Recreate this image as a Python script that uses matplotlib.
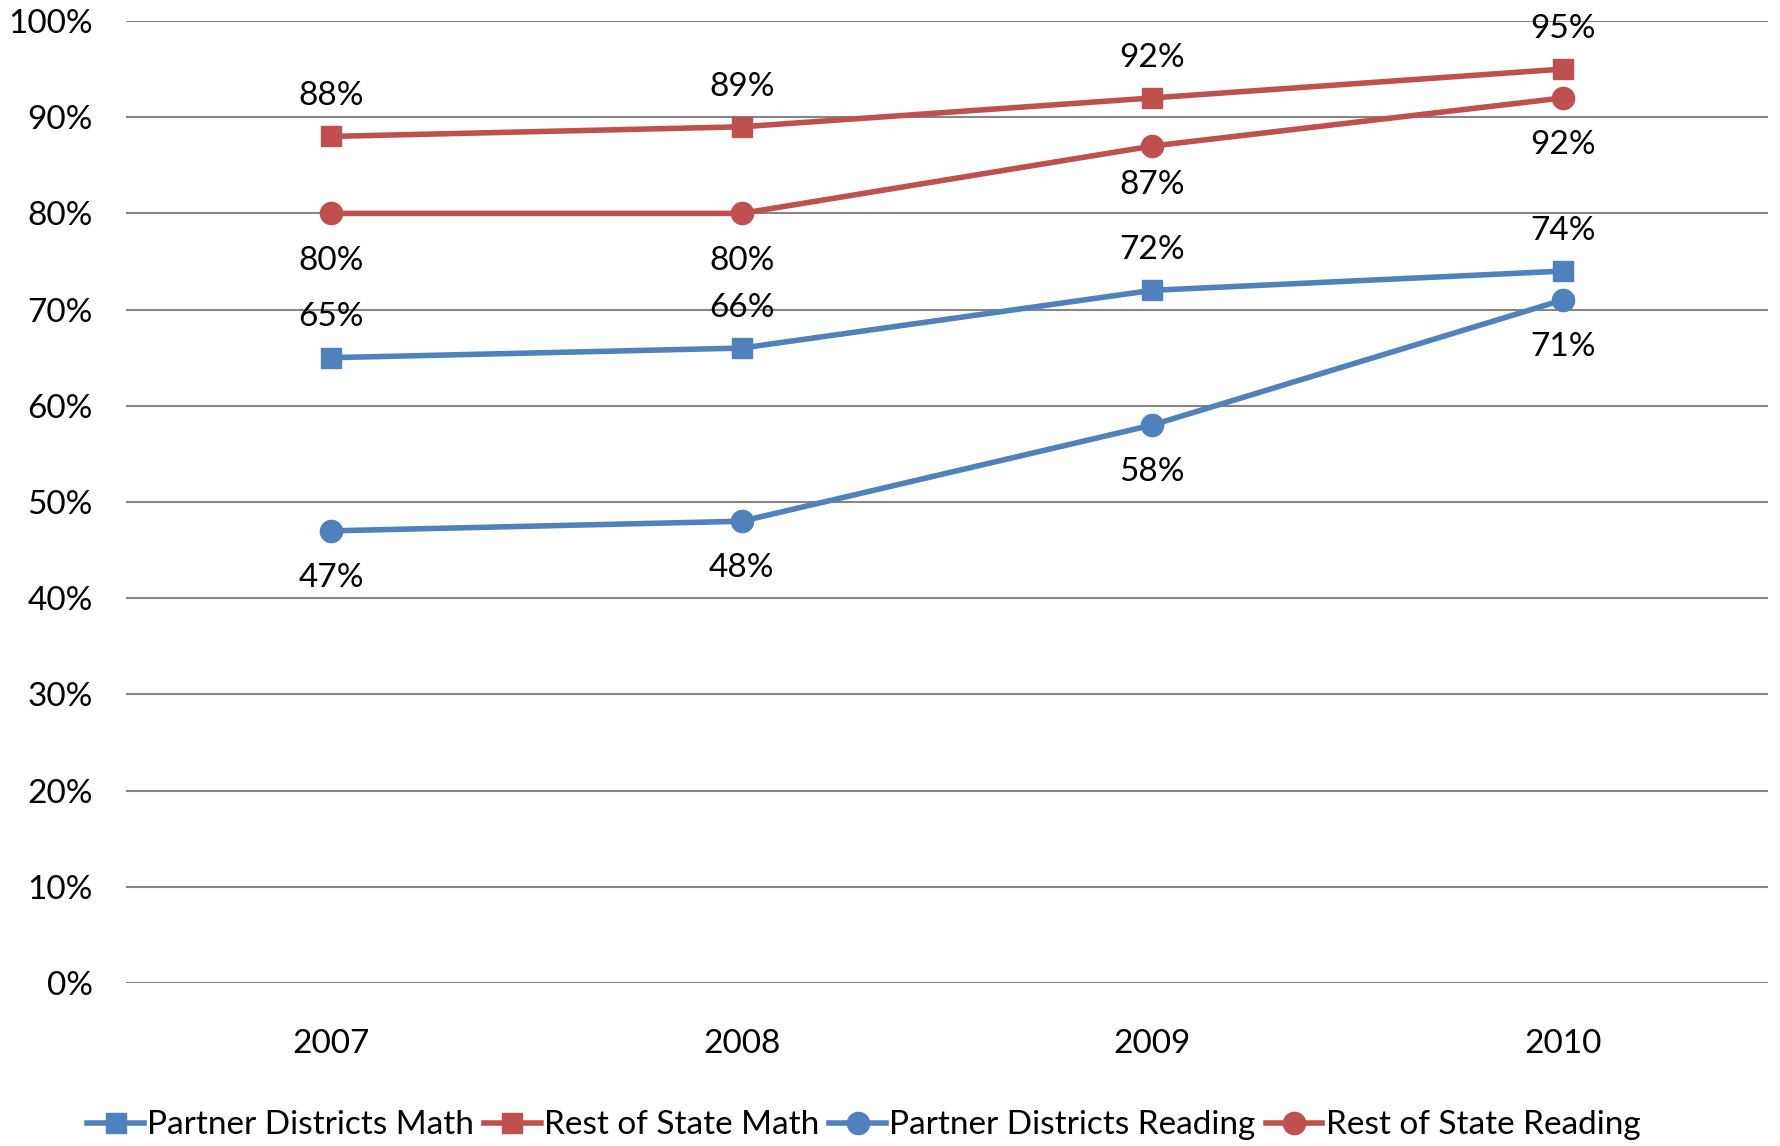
import matplotlib.pyplot as plt

plt.rcParams['font.family'] = ['Lato', 'DejaVu Sans']

years = ['2007', '2008', '2009', '2010']
partner_math = [65, 66, 72, 74]
state_math = [88, 89, 92, 95]
partner_reading = [47, 48, 58, 71]
state_reading = [80, 80, 87, 92]

blue = '#4F81BD'
red = '#C0504D'
fs = 24

fig = plt.figure(figsize=(17.81, 11.46), dpi=100)
ax = fig.add_axes([0.0707, 0.1422, 0.922, 0.8395])

x = range(len(years))
# label offsets in points (positive = above the marker)
series = [
    ('Partner Districts Math', partner_math, blue, 's', 14, [29, 29, 29, 29]),
    ('Rest of State Math', state_math, red, 's', 14, [29, 29, 29, 29]),
    ('Partner Districts Reading', partner_reading, blue, 'o', 16, [-34, -34, -34, -34]),
    ('Rest of State Reading', state_reading, red, 'o', 16, [-34, -34, -28, -34]),
]
for name, vals, col, mk, ms, offs in series:
    ax.plot(x, vals, color=col, lw=4, marker=mk, ms=ms, label=name, zorder=3)
    for xi, v, off in zip(x, vals, offs):
        ax.annotate(f'{v}%', (xi, v), xytext=(0, off), textcoords='offset points',
                    ha='center', va='center', fontsize=fs)

ax.set_xlim(-0.5, 3.5)
ax.set_ylim(0, 100)
ax.set_yticks(range(0, 101, 10))
ax.set_yticklabels([f'{t}%' for t in range(0, 101, 10)])
ax.set_xticks(list(x))
ax.set_xticklabels(years)
ax.tick_params(axis='both', length=0, labelsize=fs)
ax.tick_params(axis='x', pad=33)
ax.tick_params(axis='y', pad=24)
ax.grid(axis='y', color='#868686', lw=1.5)
ax.set_axisbelow(True)
for s in ax.spines.values():
    s.set_visible(False)

fig.legend(loc='center', bbox_to_anchor=(0.485, 0.018), ncol=4, frameon=False,
           fontsize=fs, handlelength=1.7, handletextpad=0.1, columnspacing=0.3)

fig.savefig('out.png', dpi=100)
